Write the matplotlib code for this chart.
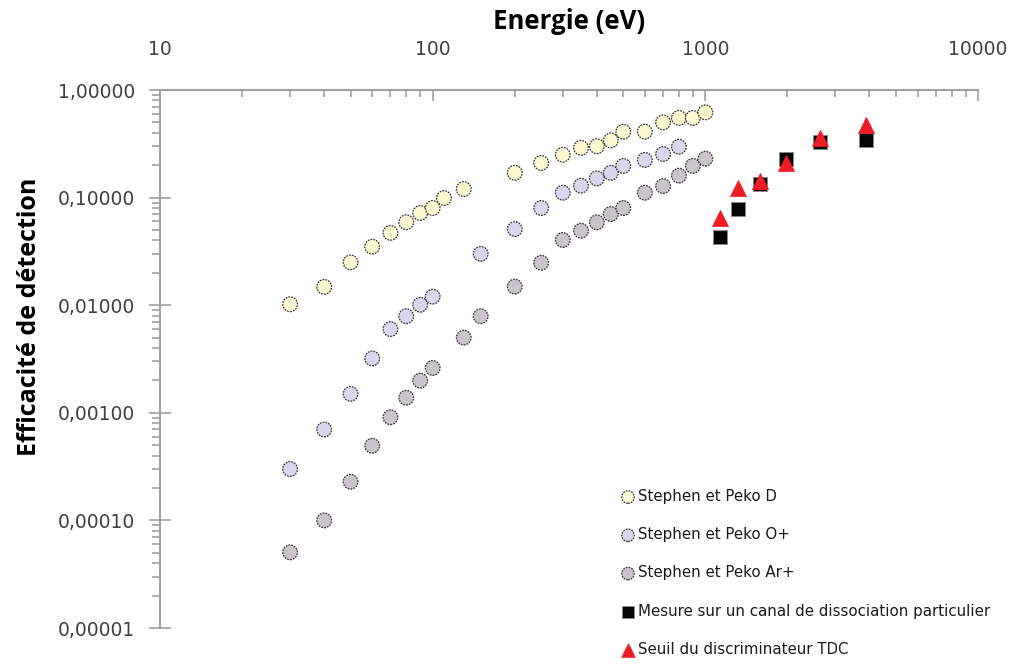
import matplotlib
matplotlib.use("Agg")
import matplotlib.pyplot as plt
from matplotlib.ticker import FixedLocator, LogLocator, NullFormatter

# ---------------- data ----------------
energy_D = [30, 40, 50, 60, 70, 80, 90, 100, 110, 130, 200, 250, 300, 350, 400, 450, 500, 600, 700, 800, 900, 1000]
eff_D = [0.0102, 0.0148, 0.025, 0.035, 0.047, 0.059, 0.072, 0.080, 0.099, 0.12, 0.17, 0.21, 0.25, 0.29, 0.30,
         0.34, 0.41, 0.41, 0.50, 0.55, 0.55, 0.62]

energy_O = [30, 40, 50, 60, 70, 80, 90, 100, 150, 200, 250, 300, 350, 400, 450, 500, 600, 700, 800]
eff_O = [0.0003, 0.0007, 0.0015, 0.0032, 0.006, 0.0079, 0.0101, 0.012, 0.030, 0.051, 0.080, 0.111, 0.129,
         0.151, 0.17, 0.197, 0.224, 0.254, 0.297]

energy_Ar = [30, 40, 50, 60, 70, 80, 90, 100, 130, 150, 200, 250, 300, 350, 400, 450, 500, 600, 700, 800, 900, 1000]
eff_Ar = [5.05e-5, 1.0e-4, 2.29e-4, 4.94e-4, 9.1e-4, 1.38e-3, 1.99e-3, 2.61e-3, 5.0e-3, 7.9e-3, 0.0149, 0.0248,
          0.0404, 0.0492, 0.0589, 0.0704, 0.080, 0.111, 0.128, 0.16, 0.197, 0.23]

energy_mes = [1130, 1315, 1580, 1980, 2625, 3890]
eff_mes = [0.0428, 0.078, 0.134, 0.229, 0.331, 0.34]

energy_tdc = [1130, 1315, 1580, 1980, 2625, 3890]
eff_tdc = [0.065, 0.122, 0.144, 0.208, 0.358, 0.473]

labels = ["Stephen et Peko D", "Stephen et Peko O+", "Stephen et Peko Ar+",
          "Mesure sur un canal de dissociation particulier", "Seuil du discriminateur TDC"]
y_ticks = [1e-5, 1e-4, 1e-3, 1e-2, 1e-1, 1]
y_ticklabels = ["0,00001", "0,00010", "0,00100", "0,01000", "0,10000", "1,00000"]
x_ticks = [10, 100, 1000, 10000]
x_ticklabels = ["10", "100", "1000", "10000"]

# ---------------- figure ----------------
fig = plt.figure(figsize=(10.19, 6.64), dpi=100)
ax = fig.add_axes([160 / 1019, 1 - 628 / 664, (978 - 160) / 1019, (628 - 90) / 664])
ax.set_xscale("log")
ax.set_yscale("log")
ax.set_xlim(10, 10000)
ax.set_ylim(1e-5, 1)

axis_col = "#A0A0A0"
ms = 112  # marker area in pt^2
dash = (0, (1.4, 0.9))
ax.scatter(energy_D, eff_D, s=ms, marker="o", facecolor="#FCF9D2", edgecolor="#333333",
           linewidths=0.9, linestyles=[dash], label=labels[0], zorder=3)
ax.scatter(energy_O, eff_O, s=ms, marker="o", facecolor="#D8D7EC", edgecolor="#333333",
           linewidths=0.9, linestyles=[dash], label=labels[1], zorder=3)
ax.scatter(energy_Ar, eff_Ar, s=ms, marker="o", facecolor="#C9C4C9", edgecolor="#333333",
           linewidths=0.9, linestyles=[dash], label=labels[2], zorder=3)
ax.scatter(energy_mes, eff_mes, s=100, marker="s", facecolor="#050505", edgecolor="#8A8A8A",
           linewidths=0.7, label=labels[3], zorder=4)
ax.scatter(energy_tdc, eff_tdc, s=135, marker="^", facecolor="#EE1C25", edgecolor="#EE1C25",
           linewidths=0.5, label=labels[4], zorder=5)

# spines
for side in ["right", "bottom"]:
    ax.spines[side].set_visible(False)
for side in ["left", "top"]:
    ax.spines[side].set_color(axis_col)
    ax.spines[side].set_linewidth(1.5)

# x axis on top
ax.xaxis.set_ticks_position("top")
ax.xaxis.set_label_position("top")
ax.xaxis.set_major_locator(FixedLocator(x_ticks))
ax.set_xticklabels(x_ticklabels)
ax.xaxis.set_minor_locator(LogLocator(base=10, subs=range(2, 10)))
ax.xaxis.set_minor_formatter(NullFormatter())
ax.tick_params(axis="x", which="major", direction="in", length=8, width=1.2, color=axis_col,
               labelsize=13.5, labelcolor="#404040", pad=22)
ax.tick_params(axis="x", which="minor", direction="in", length=5, width=1.2, color=axis_col)

ax.yaxis.set_major_locator(FixedLocator(y_ticks))
ax.set_yticklabels(y_ticklabels)
ax.yaxis.set_minor_locator(LogLocator(base=10, subs=range(2, 10)))
ax.yaxis.set_minor_formatter(NullFormatter())
ax.tick_params(axis="y", which="major", direction="inout", length=16, width=1.2, color=axis_col,
               labelsize=13.5, labelcolor="#404040", pad=10)
ax.tick_params(axis="y", which="minor", direction="out", length=6, width=1.2, color=axis_col)

ax.set_xlabel("Energie (eV)", fontsize=18.5, fontweight="bold", family=["Open Sans", "DejaVu Sans"],
              labelpad=8)
ax.set_ylabel("Efficacité de détection", fontsize=18, fontweight="bold",
              family=["Open Sans", "DejaVu Sans"], labelpad=10)
ax.yaxis.set_label_coords(-0.144, 0.578)

leg = ax.legend(loc="lower left", bbox_to_anchor=(616 / 1019, 1 / 664),
                bbox_transform=fig.transFigure, frameon=False, fontsize=10.8,
                handlelength=0.8, handletextpad=0.3, labelspacing=1.55, borderaxespad=0,
                markerscale=0.85)
for t in leg.get_texts():
    t.set_color("#1A1A1A")

fig.savefig("out.png", dpi=100)
